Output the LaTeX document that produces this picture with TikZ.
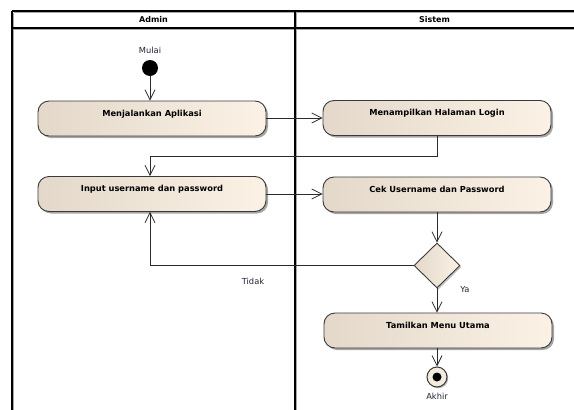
\documentclass[tikz,border=0pt]{standalone}
\usepackage{fontspec}
\setmainfont{DejaVu Sans}
\usetikzlibrary{arrows.meta,shapes.geometric,shadows}
\definecolor{actL}{HTML}{E3D8CA}
\definecolor{actR}{HTML}{FBF2E5}
\definecolor{edgec}{HTML}{3A3A3A}
\definecolor{wire}{HTML}{2A2A2A}
\definecolor{lanesh}{HTML}{A8A8A8}
\definecolor{labelc}{HTML}{1E2233}
\begin{document}
\begin{tikzpicture}[x=1pt,y=-1pt,
  action/.style={rectangle, rounded corners=11pt, draw=edgec, line width=0.9pt,
    left color=actL, right color=actR, minimum width=228pt,
    inner xsep=4pt, inner ysep=5pt, text height=10pt, text depth=15pt,
    font=\fontsize{8.3}{10}\selectfont\bfseries,
    drop shadow={shadow xshift=2pt, shadow yshift=-2pt, opacity=0.35, fill=black}},
  decision/.style={diamond, draw=edgec, line width=0.9pt, left color=actL, right color=actR,
    minimum width=46pt, minimum height=45pt, inner sep=0pt,
    drop shadow={shadow xshift=1.5pt, shadow yshift=-1.5pt, opacity=0.25, fill=black}},
  flow/.style={draw=wire, line width=0.8pt, -{Straight Barb[length=10pt, width=10pt]}},
  plain/.style={draw=wire, line width=0.8pt},
  lane/.style={draw=black, line width=1.1pt},
  laneshade/.style={draw=lanesh, line width=1pt},
  head/.style={font=\fontsize{8}{10}\selectfont\bfseries},
  tag/.style={font=\fontsize{8.3}{10}\selectfont, text=labelc, inner sep=1pt}]
\useasboundingbox (0,0) rectangle (574,410);

% swimlane frame
\draw[laneshade] (13.5,12.5) -- (574,12.5);
\draw[laneshade] (13.5,29.5) -- (574,29.5);
\draw[laneshade] (13.5,12.5) -- (13.5,410);
\draw[laneshade] (296.5,12.5) -- (296.5,410);
\draw[lane] (12,11) -- (574,11);
\draw[lane] (12,28) -- (574,28);
\draw[lane] (12,11) -- (12,410);
\draw[lane] (295,11) -- (295,410);
\node[head] (hAdmin) at (153.5,19.5) {Admin};
\node[head] (hSistem) at (434.5,19.5) {Sistem};

% start node
\node[tag] (tMulai) at (150,50) {Mulai};
\node[circle, fill=black, minimum size=16pt, inner sep=0pt] (start) at (150,68) {};

% activities
\node[action] (b1) at (152,118.5) {Menjalankan Aplikasi};
\node[action] (b2) at (437,118) {Menampilkan Halaman Login};
\node[action] (b3) at (152,194) {Input username dan password};
\node[action] (b4) at (437,194.5) {Cek Username dan Password};
\node[decision] (dec) at (437,265.5) {};
\node[action] (b5) at (438,330.5) {Tamilkan Menu Utama};

% final node
\node[circle, draw=edgec, line width=1pt, fill=actR!70!actL, minimum size=20pt, inner sep=0pt,
  drop shadow={shadow xshift=1.2pt, shadow yshift=-1.2pt, opacity=0.3, fill=black}] (stop) at (437,377) {};
\node[circle, fill=black, minimum size=9pt, inner sep=0pt] (stopdot) at (stop) {};
\node[tag] (tAkhir) at (437,396) {Akhir};

% guard labels
\node[tag] (tTidak) at (253,281) {Tidak};
\node[tag] (tYa) at (465,290) {Ya};

% turning points
\coordinate (j1) at (150,156);
\coordinate (j2) at (150,265.5);

% connectors
\draw[flow] (start) -- (start |- b1.north);
\draw[flow] (b1.east |- 0,118) -- (b2.west |- 0,118);
\draw[plain] (b2.south) |- (j1);
\draw[flow] (j1) -- (j1 |- b3.north);
\draw[flow] (b3.east |- 0,194) -- (b4.west |- 0,194);
\draw[flow] (b4.south) -- (dec.north);
\draw[plain] (dec.west) -- (j2);
\draw[flow] (j2) -- (j2 |- b3.south);
\draw[flow] (dec.south) -- (dec.south |- b5.north);
\draw[flow] (stop.north |- b5.south) -- (stop.north);
\end{tikzpicture}
\end{document}
